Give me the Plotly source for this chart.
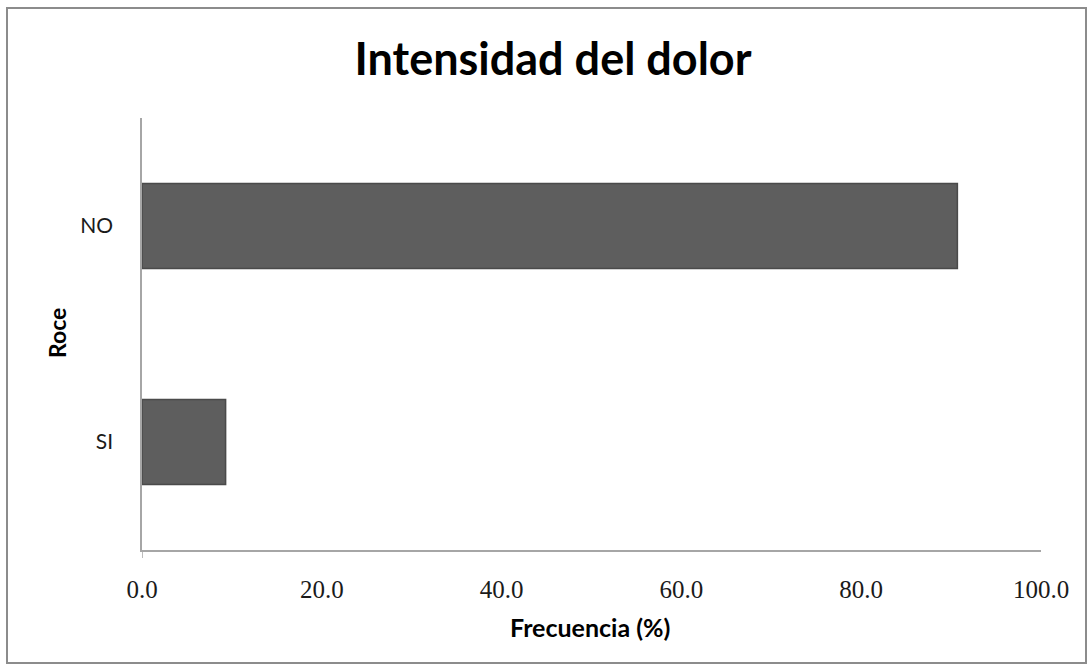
import plotly.graph_objects as go

# Frequency of "Roce" answers (percent)
categories = ["SI", "NO"]
frequencies = [9.3, 90.7]
x_ticks = [0, 20, 40, 60, 80, 100]
x_tick_labels = ["0.0", "20.0", "40.0", "60.0", "80.0", "100.0"]

W, H = 1092, 671
ML, MR, MT, MB = 142, 51, 118, 121
PW, PH = W - ML - MR, H - MT - MB


def px_to_paper_x(px):
    return (px - ML) / PW


def px_to_paper_y(py):
    return (H - MB - py) / PH


fig = go.Figure(
    go.Bar(
        y=categories,
        x=frequencies,
        orientation="h",
        marker=dict(color="#5e5e5e", line=dict(color="#4a4a4a", width=1.5)),
        hoverinfo="x+y",
    )
)

fig.update_layout(
    width=W,
    height=H,
    margin=dict(l=ML, r=MR, t=MT, b=MB),
    paper_bgcolor="white",
    plot_bgcolor="white",
    showlegend=False,
    bargap=0.606,
    title=dict(
        text="<b>Intensidad del dolor</b>",
        font=dict(family="Lato", size=45, color="#000000"),
        x=553 / W,
        xanchor="center",
        y=1 - 59 / H,
        yanchor="middle",
        xref="container",
        yref="container",
    ),
    xaxis=dict(
        range=[0, 100],
        tickvals=x_ticks,
        ticktext=x_tick_labels,
        showgrid=False,
        zeroline=False,
        showline=True,
        linecolor="#a6a6a6",
        linewidth=1.5,
        ticks="",
        ticklabelstandoff=16,
        tickfont=dict(family="Liberation Serif", size=25, color="#1a1a1a"),
        fixedrange=True,
    ),
    yaxis=dict(
        categoryorder="array",
        categoryarray=categories,
        showgrid=False,
        zeroline=False,
        showline=True,
        linecolor="#a6a6a6",
        linewidth=1.5,
        ticks="",
        ticklabelstandoff=23,
        tickfont=dict(family="Lato", size=21, color="#1a1a1a"),
        fixedrange=True,
    ),
    annotations=[
        dict(
            text="<b>Frecuencia (%)</b>",
            x=px_to_paper_x(590),
            y=px_to_paper_y(627),
            xref="paper",
            yref="paper",
            xanchor="center",
            yanchor="middle",
            showarrow=False,
            font=dict(family="Lato", size=25, color="#000000"),
        ),
        dict(
            text="<b>Roce</b>",
            x=px_to_paper_x(57),
            y=px_to_paper_y(333),
            xref="paper",
            yref="paper",
            xanchor="center",
            yanchor="middle",
            textangle=-90,
            showarrow=False,
            font=dict(family="Lato", size=23, color="#000000"),
        ),
    ],
    shapes=[
        # chart frame
        dict(
            type="rect",
            xref="paper",
            yref="paper",
            x0=px_to_paper_x(7),
            x1=px_to_paper_x(1086),
            y0=px_to_paper_y(663),
            y1=px_to_paper_y(8),
            line=dict(color="#8c8c8c", width=2),
            fillcolor="rgba(0,0,0,0)",
            layer="below",
        ),
        # small tick below the origin
        dict(
            type="line",
            xref="x",
            yref="paper",
            x0=0,
            x1=0,
            y0=0,
            y1=-8 / PH,
            line=dict(color="#a6a6a6", width=1.5),
        ),
    ],
)

fig.write_html("out.html")
